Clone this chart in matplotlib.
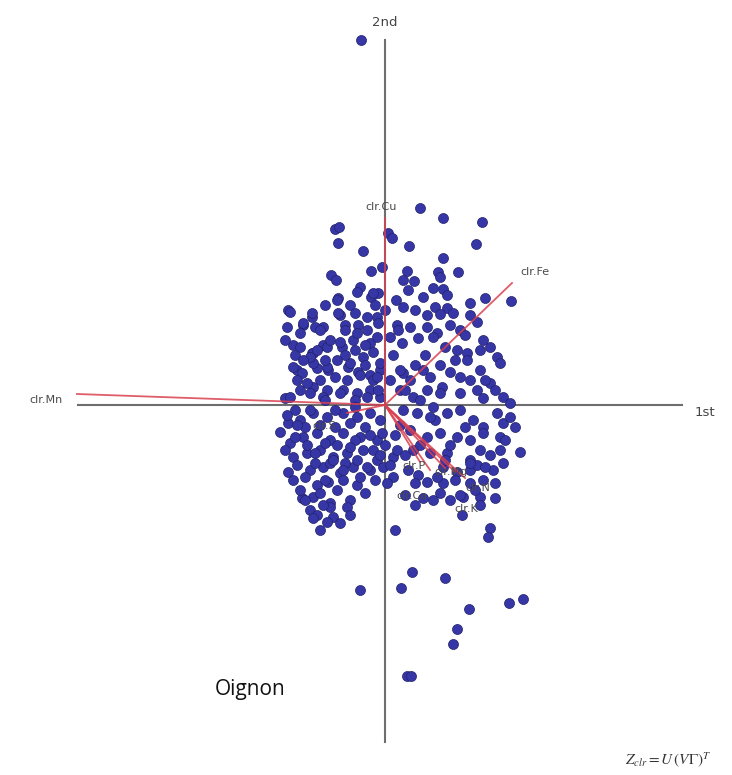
"""Compositional biplot (clr) of the Oignon dataset: scores on the 1st and 2nd
axes with the clr loadings drawn as red rays from the origin."""

import matplotlib.pyplot as plt
import numpy as np

# scores on the two axes, in hundredths
PC1 = [
    -24, 35, 58, 97, -50, -46, -47, 3, 7, -22, 24, 91, 58, 73, -54, -49, -14, -3,
    22, 18, 29, 23, 53, 55, 48, 58, -25, -28, -14, -7, 38, 100, 126, 85, -97, -47,
    -35, 11, 18, 50, 62, 42, 55, 68, 85, 92, -98, -82, -73, -62, -45, -27, -18, -8,
    12, 13, 25, 42, 52, 65, 75, 98, 105, -92, -85, -73, -62, -43, -32, -15, -8, 17,
    33, 48, 60, 72, 82, 95, 112, 115, -88, -83, -68, -57, -50, -37, -27, -15, -5,
    18, 25, 38, 45, 57, 65, 75, 82, 95, 105, 118, 125, 92, -85, -72, -58, -42, -28,
    -15, -5, 15, 28, 42, 55, 75, 98, -100,
    -95, -73, -82, -70, -65, -48, -47, -12, -10, -72, -58, -45, -28, -18, -7, -92,
    -72, -58, -48, -35, -22, -12, -5, -78, -65, -38, -25, -12, -95, -75, -62, -45,
    -18, -7,
    -105, -97, -85, -72, -58, -42, -28, -15, 18, 32, 48, 62, 75, 88, 98, 112, 118,
    125, -95, -82, -68, -55, -42, -25, -8, 25, 42, 55, 72, 85, 98, 115, -92, -78,
    -65, -52, -38, -22, -8, 8, 28, 45, 62, 85, 95, 115, 135, -97, -75, -62, -45,
    -32, -15, -2, 8, 23, 33, 58, 72, 85, 108, -68, -57, -42, -28, 2, 42, 58, 85, 98,
    -83, -72, -55, -35, 38, 48, 65, 78, 95, 110, -75, -68, -55, -72, -52, -58, 77,
    105, 103, 10, 27, 60, -25, 16, 124, 138, 84, 72, 68, 22, 26,
    -90, -80, -65, -50, -35, -20, -5, -100, -88, -70, -55, -40, -28, -12, 0, 10,
    -80, -65, -48, -38, -20, -10, 5, -60, -85, -45, -65, -35,
    15, 35, 50, 65, 80, 92, 105, 120, 130, 70, 55, 90, 110, 20, 30, 12,
    -88, -75, -60, -40, -30, -20, -8, 5, 30, 40, 55, 70, 85, 100, 110, -90, -100,
    -85, -60, -30, 0, 30, 62, 80, -40, 8, 20, 35, -60, -30,
    -98, -90, -78, -60, -48, -30, -15, -3, -92, -70, -52, -35, -18, -5, -80, -62,
    -42, -25, -88, -75, -50, -30, 20, 45, 60, 85, 100, 118, 30, 52, 75, 95, -20,
    -40, -55, -68, -82, 5, 15,
]
PC2 = [
    365, 197, 187, 183, 176, 178, 162, 172, 167, 154, 159, 161, 147, 133, 130, 125,
    134, 138, 134, 125, 124, 115, 133, 128, 117, 116, 118, 113, 108, 112, 108, 107,
    104, 102, 95, 107, 100, 105, 98, 98, 97, 90, 91, 92, 90, 83, 78, 80, 88, 78, 90,
    80, 88, 88, 80, 75, 78, 78, 72, 80, 75, 65, 58, 60, 58, 52, 60, 58, 65, 62, 68,
    62, 67, 68, 58, 55, 52, 55, 48, 42, 35, 32, 37, 35, 28, 38, 33, 30, 35, 32, 25,
    35, 28, 18, 33, 28, 45, 35, 22, 8, 2, 15, 15, 18, 15, 15, 12, 15, 8, 15, 8, 15,
    12, 12, 7, 7,
    93, 92, 82, 78, 75, 105, 92, 112, 100, 52, 58, 63, 72, 75, 82, 38, 42, 38, 45,
    42, 48, 53, 42, 22, 25, 25, 30, 25, 8, 12, 8, 12, 8, 15,
    -27, -18, -15, -8, -12, -8, -12, -8, -5, -8, -2, -8, -5, -15, -22, -8, -18, -12,
    -38, -32, -28, -35, -28, -32, -35, -25, -32, -28, -32, -35, -28, -32, -52, -48,
    -45, -52, -48, -45, -55, -52, -45, -48, -48, -55, -45, -45, -47, -67, -65, -62,
    -68, -62, -65, -62, -72, -65, -70, -62, -67, -65, -65, -80, -77, -75, -80, -78,
    -77, -78, -78, -75, -93, -92, -98, -95, -93, -95, -95, -92, -92, -93, -105,
    -110, -102, -113, -112, -117, -110, -123, -132, -125, -167, -173, -185, -183,
    -198, -194, -204, -224, -239, -271, -271,
    -5, -22, -20, -22, -18, -22, -15, -45, -60, -58, -58, -58, -55, -45, -40, -30,
    -72, -88, -85, -102, -88, -75, -60, -75, -85, -118, -125, -110,
    -20, -40, -15, -40, -22, -60, -50, -35, -22, -75, -88, -85, -78, -90, -100, -45,
    25, 48, 45, 50, 55, 40, 28, 25, 40, 50, 40, 45, 25, 25, 15, 50, 65, 72, 100, 92,
    95, 95, 110, 70, 80, 50, 15, 5, 5, 5,
    -10, -32, -40, -38, -40, -35, -30, -28, -75, -48, -55, -42, -62, -50, -95, -100,
    -65, -72, -20, -5, -5, -2, -50, -12, -55, -58, -62, -58, -78, -72, -90, -100,
    60, 75, 65, 55, 45, 68, 35,
]

# clr loadings (same units)
VARS = ["clr.Cu", "clr.Fe", "clr.Mn", "clr.S", "clr.P", "clr.Mg", "clr.Ca",
        "clr.N", "clr.K"]
LOAD1 = [0, 127, -308, -38, 35, 60, 45, 80, 70]
LOAD2 = [187, 122, 11, -8, -57, -63, -65, -73, -67]

# label offsets in points, per variable
LABEL_POS = {
    "clr.Cu": (-3, 4, "center", "bottom"),
    "clr.Fe": (6, 4, "left", "bottom"),
    "clr.Mn": (-10, -4, "right", "center"),
    "clr.S": (-8, -6, "right", "top"),
    "clr.P": (-4, -3, "center", "center"),
    "clr.Mg": (4, -3, "center", "center"),
    "clr.Ca": (-13, -19, "center", "center"),
    "clr.N": (9, -7, "center", "center"),
    "clr.K": (8, -27, "center", "center"),
}

x = np.array(PC1) / 100
y = np.array(PC2) / 100

fig = plt.figure(figsize=(7.32, 7.75), dpi=100)
ax = fig.add_axes([0, 0, 1, 1])
ax.set_xlim(-3.85, 3.47)
ax.set_ylim(-3.70, 4.05)
ax.axis("off")

# axes through the origin
ax.plot([-3.07, 2.97], [0, 0], color="#6e6e6e", lw=1.5, zorder=1)
ax.plot([0, 0], [-3.37, 3.65], color="#6e6e6e", lw=1.5, zorder=1)
ax.text(3.20, -0.07, "1st", fontsize=9.5, color="#444444",
        ha="center", va="center")
ax.text(0.0, 3.83, "2nd", fontsize=9.5, color="#444444",
        ha="center", va="center")

ax.scatter(x, y, s=52, color="#3636a6", edgecolor="#22226a",
           linewidth=0.5, zorder=2)

for name, lx, ly in zip(VARS, LOAD1, LOAD2):
    tx, ty = lx / 100, ly / 100
    ax.plot([0, tx], [0, ty], color="#d9404f", lw=1.3, alpha=0.85, zorder=3)
    dx, dy, ha, va = LABEL_POS[name]
    ax.annotate(name, (tx, ty), xytext=(dx, dy), textcoords="offset points",
                ha=ha, va=va, fontsize=8, color="#4a4a4a", zorder=4)

ax.text(-1.35, -2.85, "Oignon", fontsize=15, family="Open Sans",
        color="#111111", ha="center", va="center")

plt.rcParams["mathtext.fontset"] = "stix"
ax.text(2.83, -3.55, r"$Z_{clr}=U\,(V\Gamma)^T$", fontsize=11,
        color="#333333", ha="center", va="center")

fig.savefig("out.png", dpi=100)
